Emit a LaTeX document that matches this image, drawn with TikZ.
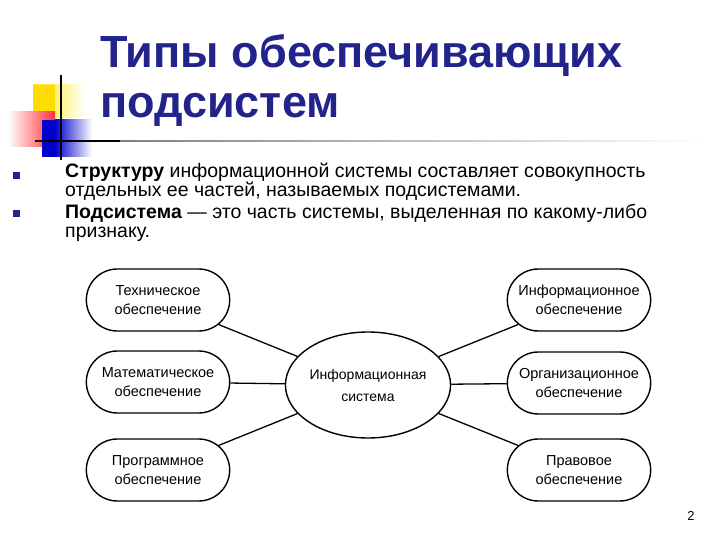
\documentclass[tikz,border=0pt]{standalone}
\usepackage{fontspec}
\setmainfont{Liberation Sans}
\usetikzlibrary{shapes.misc,shapes.geometric}
\definecolor{navy}{RGB}{35,35,140}
\begin{document}
\begin{tikzpicture}[x=1pt,y=-1pt,
  box/.style={draw,line width=1.4pt,rounded rectangle,minimum width=150pt,minimum height=62pt,align=center,font=\fontsize{14.5}{19}\selectfont},
  con/.style={line width=1.3pt}]
\useasboundingbox (0,0) rectangle (720,540);
% decoration
\shade[left color=yellow!80!orange,right color=white] (33,85) rectangle (85,118);
\fill[yellow!80!orange] (33,85) rectangle (55,118);
\shade[left color=white,right color=red!80] (8,112) rectangle (55,147);
\fill[blue!80!black] (42,120) rectangle (58,157);
\shade[left color=blue!80!black,right color=white] (55,120) rectangle (92,157);
\draw[line width=1.5pt] (35,141) -- (120,141);
\draw[line width=1.5pt] (61,75) -- (61,160);
\shade[left color=black!50,right color=white] (120,140.5) rectangle (705,142);
% title
\node[anchor=west,inner sep=0,text=navy,font=\fontsize{45}{50}\selectfont\bfseries,align=left] (title) at (100,80) {Типы обеспечивающих\\подсистем};
% bullets
\fill[navy] (13,172) rectangle (20,179);
\fill[navy] (13,210) rectangle (20,217);
\node[anchor=north west,inner sep=0,font=\fontsize{19.5}{19}\selectfont,align=left] (b1) at (65,163) {\textbf{Структуру} информационной системы составляет совокупность\\отдельных ее частей, называемых подсистемами.};
\node[anchor=north west,inner sep=0,font=\fontsize{19.5}{19}\selectfont,align=left] (b2) at (65,204) {\textbf{Подсистема} — это часть системы, выделенная по какому-либо\\признаку.};
% diagram
\node[draw,line width=1.4pt,ellipse,inner sep=0pt,minimum width=162pt,minimum height=106pt,align=center,font=\fontsize{14}{22}\selectfont] (c) at (368,385) {Информационная\\система};
\node[box] (l1) at (158,300) {Техническое\\обеспечение};
\node[box] (l2) at (158,382) {Математическое\\обеспечение};
\node[box] (l3) at (158,470) {Программное\\обеспечение};
\node[box] (r1) at (579,300) {Информационное\\обеспечение};
\node[box] (r2) at (579,383) {Организационное\\обеспечение};
\node[box] (r3) at (579,470) {Правовое\\обеспечение};
\draw[con] (l1) -- (c); \draw[con] (l2) -- (c); \draw[con] (l3) -- (c);
\draw[con] (r1) -- (c); \draw[con] (r2) -- (c); \draw[con] (r3) -- (c);
\node[font=\fontsize{13}{14}\selectfont] (pg) at (691,516) {2};
\end{tikzpicture}
\end{document}
